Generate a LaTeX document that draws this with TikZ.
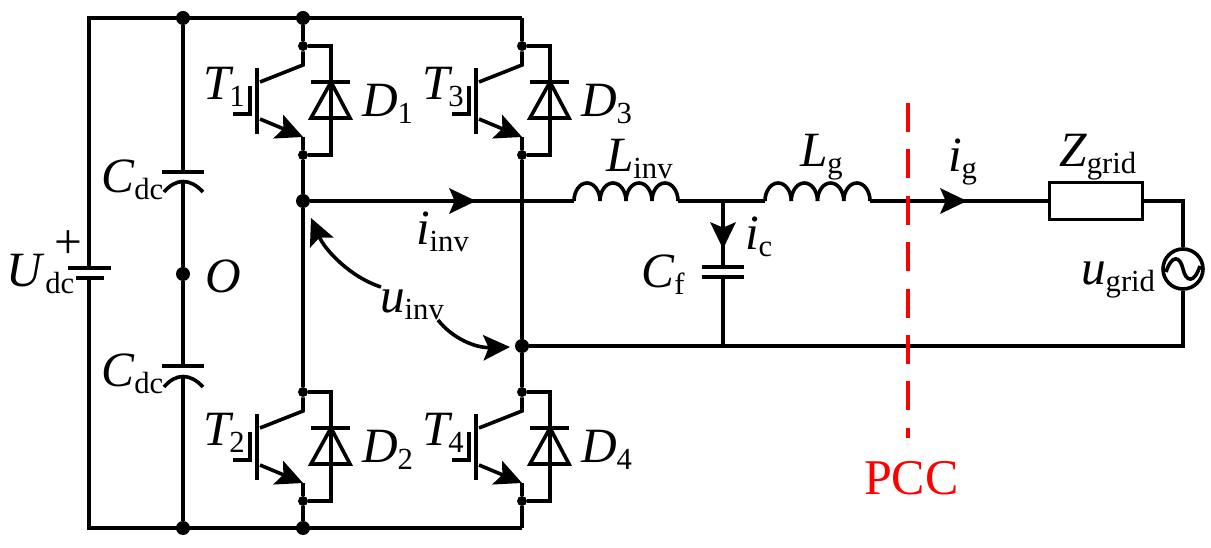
\documentclass[tikz,border=0pt]{standalone}
\usepackage{fontspec}
\setmainfont{Liberation Serif}
\usetikzlibrary{arrows.meta}
\newcommand{\lab}[2]{{\fontsize{37}{37}\selectfont\textit{#1}\raisebox{-5.2pt}{\fontsize{23}{23}\selectfont #2}}}
\tikzset{
	wire/.style={line width=2.7pt},
	thinwire/.style={line width=2.4pt},
	arr/.style={wire, -{Stealth[length=20pt,width=19pt,inset=4pt]}},
	bigdot/.style={circle, fill=black, inner sep=0pt, minimum size=10.5pt},
	smalldot/.style={circle, fill=black, inner sep=0pt, minimum size=7.5pt},
	lbl/.style={anchor=base west, inner sep=0pt, outer sep=0pt},
}
\begin{document}
\begin{tikzpicture}[x=0.75pt, y=-0.75pt]
	\useasboundingbox (0,0) rectangle (1211,548);

	\def \ytop{18}
	\def \ybot{528}
	\def \yout{201}
	\def \yret{346}

	% RAILS AND DOTS
	\coordinate (tl) at (89,\ytop);
	\coordinate (tr) at (522,\ytop);
	\coordinate (bl) at (89,\ybot);
	\coordinate (br) at (522,\ybot);
	\coordinate (bata) at (89,268);
	\coordinate (batb) at (89,278);
	\node[bigdot] (ctop) at (183,\ytop) {};
	\node[bigdot] (cbot) at (183,\ybot) {};
	\node[bigdot] (ltop) at (303,\ytop) {};
	\node[bigdot] (lbot) at (303,\ybot) {};
	\node[bigdot] (mid) at (183,274) {};
	\node[bigdot] (outa) at (303,\yout) {};
	\node[bigdot] (outb) at (522,\yret) {};
	\draw[wire] (bata) -- (tl) -- (tr);
	\draw[wire] (batb) -- (bl) -- (br);

	% SWITCHES
	\foreach \n/\dx/\dy in {1/0/0, 2/0/346, 3/219/0, 4/219/346}{
		\begin{scope}[shift={(\dx,\dy)}]
			\node[smalldot] (up\n) at (303,46) {};
			\node[smalldot] (dn\n) at (303,155) {};
			\coordinate (col\n) at (303,65);
			\coordinate (emi\n) at (303,137);
			\coordinate (dup\n) at (331,46);
			\coordinate (ddn\n) at (331,155);
			\draw[wire] (up\n) -- (col\n) -- (260,82);
			\draw[wire] (257,68) -- (257,134);
			\draw[thinwire] (233,114) -- (250,114) -- (250,86);
			\draw[arr] (260,119) -- (emi\n);
			\draw[wire] (emi\n) -- (dn\n);
			\draw[wire] (up\n) -- (dup\n) -- (ddn\n) -- (dn\n);
			\draw[wire] (311,82) -- (350,82);
			\draw[wire] (311,118) -- (350,118) -- (331,82) -- cycle;
			\node[lbl] (t\n) at (203,100) {\lab{T}{\kern-3pt\n}};
			\node[lbl] (d\n) at (362,117) {\lab{D}{\n}};
		\end{scope}
	}

	% LEGS
	\draw[wire] (ltop) -- (up1);
	\draw[wire] (dn1) -- (outa) -- (up2);
	\draw[wire] (dn2) -- (lbot);
	\draw[wire] (tr) -- (up3);
	\draw[wire] (dn3) -- (outb) -- (up4);
	\draw[wire] (dn4) -- (br);

	% DC SIDE
	\draw[wire] (68,268) -- (111,268);
	\draw[wire] (76,278) -- (104,278);
	\draw[wire] (162,172) -- (204,172);
	\draw[wire] (164,192) .. controls (176,178) and (190,178) .. (203,192);
	\draw[wire] (162,366) -- (204,366);
	\draw[wire] (164,387) .. controls (176,373) and (190,373) .. (203,387);
	\coordinate (ca) at (183,172);
	\coordinate (cb) at (183,182);
	\coordinate (cc) at (183,366);
	\coordinate (cd) at (183,376);
	\draw[wire] (ctop) -- (ca);
	\draw[wire] (cb) -- (mid) -- (cc);
	\draw[wire] (cd) -- (cbot);

	% FILTER AND GRID
	\coordinate (lia) at (574,\yout);
	\coordinate (lib) at (678,\yout);
	\coordinate (lga) at (765,\yout);
	\coordinate (lgb) at (870,\yout);
	\coordinate (cfa) at (723,\yout);
	\coordinate (cfb) at (723,267);
	\coordinate (cfc) at (723,277);
	\coordinate (cfd) at (723,\yret);
	\coordinate (ica) at (723,249);
	\coordinate (iga) at (967,\yout);
	\coordinate (iia) at (476,\yout);
	\coordinate (gc) at (1183,\yout);
	\coordinate (gd) at (1183,\yret);
	\node[draw, wire, inner sep=0pt, minimum width=70pt, minimum height=27.5pt] (zg) at (1096,\yout) {};
	\node[draw, wire, circle, inner sep=0pt, minimum size=30pt] (ug) at (1183,269) {};
	\foreach \i in {0,1,2,3}{
		\draw[wire] (574+26*\i,\yout) arc (180:360:13 and 18);
		\draw[wire] (765+26.25*\i,\yout) arc (180:360:13.125 and 18);
	}
	\draw[wire] (1166,272) .. controls (1172,254) and (1180,256) .. (1183,269) .. controls (1186,282) and (1194,284) .. (1200,266);
	\draw[wire] (outa) -- (lia);
	\draw[arr] (outa) -- (iia);
	\draw[wire] (lib) -- (lga);
	\draw[wire] (lgb) -- (zg);
	\draw[arr] (lgb) -- (iga);
	\draw[wire] (zg) -- (gc) -- (ug);
	\draw[wire] (ug) -- (gd) -- (outb);
	\draw[wire] (cfa) -- (cfb);
	\draw[arr] (cfa) -- (ica);
	\draw[wire] (702,267) -- (744,267);
	\draw[wire] (702,277) -- (744,277);
	\draw[wire] (cfc) -- (cfd);

	% VOLTAGE ARROWS
	\coordinate (uia) at (381,287);
	\coordinate (uib) at (311,218);
	\coordinate (uic) at (438,320);
	\coordinate (uid) at (510,347);
	\draw[arr] (uia) .. controls (350,277) and (325,250) .. (uib);
	\draw[arr] (uic) .. controls (452,338) and (475,348) .. (uid);

	% LABELS
	\node[lbl] (cdca) at (101,193) {\lab{C}{dc}};
	\node[lbl] (cdcb) at (101,387) {\lab{C}{dc}};
	\node[lbl] (udc) at (7,287) {\lab{U}{dc}};
	\node[font=\fontsize{37}{37}\selectfont, inner sep=0pt] (plus) at (68,245) {+};
	\node[lbl] (o) at (205,293) {\lab{O}{}};
	\node[lbl] (linv) at (606,172) {\lab{L}{inv}};
	\node[lbl] (lg) at (800,167) {\lab{L}{g}};
	\node[lbl] (ic) at (745,250) {\lab{i}{c}};
	\node[lbl] (cf) at (641,288) {\lab{C}{f}};
	\node[lbl] (ig) at (948,172) {\lab{i}{g}};
	\node[lbl] (zgrid) at (1059,167) {\lab{Z}{grid}};
	\node[lbl] (ugrid) at (1081,285) {\lab{u}{grid}};
	\node[lbl] (iinv) at (416,245) {\lab{i}{inv}};
	\node[lbl] (uinv) at (380,313) {\lab{u}{inv}};

	% PCC
	\coordinate (pcca) at (908,103);
	\coordinate (pccb) at (908,438);
	\draw[red, line width=2.6pt, dash pattern=on 21.8pt off 13pt] (pcca) -- (pccb);
	\node[red, font=\fontsize{37.5}{37.5}\selectfont, lbl] (pcc) at (864,495) {PCC};
\end{tikzpicture}
\end{document}
